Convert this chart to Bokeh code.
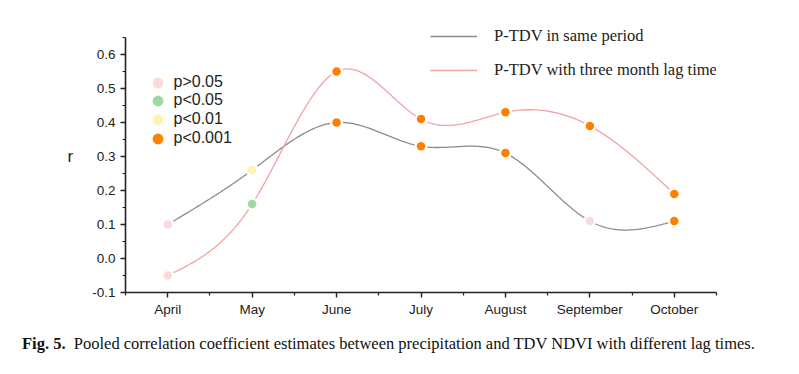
import numpy as np
from bokeh.plotting import figure
from bokeh.layouts import column
from bokeh.models import (Range1d, FixedTicker, PrintfTickFormatter, Legend, LegendItem,
                          ColumnDataSource, Div)
from bokeh.embed import file_html
from bokeh.resources import INLINE

# ---------------- data ----------------
months = ["April", "May", "June", "July", "August", "September", "October"]
r_same = [0.10, 0.26, 0.40, 0.33, 0.31, 0.11, 0.11]
r_lag = [-0.05, 0.16, 0.55, 0.41, 0.43, 0.39, 0.19]
sig_same = ["p>0.05", "p<0.01", "p<0.001", "p<0.001", "p<0.001", "p>0.05", "p<0.001"]
sig_lag = ["p>0.05", "p<0.05", "p<0.001", "p<0.001", "p<0.001", "p<0.001", "p<0.001"]
sig_levels = ["p>0.05", "p<0.05", "p<0.01", "p<0.001"]
series_names = ["P-TDV in same period", "P-TDV with three month lag time"]
y_ticks = [-0.1, 0.0, 0.1, 0.2, 0.3, 0.4, 0.5, 0.6]
caption_bold = "Fig. 5."
caption_text = "Pooled correlation coefficient estimates between precipitation and TDV NDVI with different lag times."

# ---------------- style ----------------
sig_colors = {"p>0.05": "#fcdada", "p<0.05": "#9fd8a0", "p<0.01": "#fff2b3", "p<0.001": "#ff8000"}
line_colors = ["#8c8c8c", "#f0a3a3"]
SANS = "Liberation Sans"
SERIF = "Liberation Serif"


def natural_spline(x, y, n=400):
    x = np.asarray(x, float)
    y = np.asarray(y, float)
    m = len(x)
    h = np.diff(x)
    A = np.zeros((m, m))
    b = np.zeros(m)
    A[0, 0] = A[-1, -1] = 1.0
    for i in range(1, m - 1):
        A[i, i - 1] = h[i - 1]
        A[i, i] = 2 * (h[i - 1] + h[i])
        A[i, i + 1] = h[i]
        b[i] = 3 * ((y[i + 1] - y[i]) / h[i] - (y[i] - y[i - 1]) / h[i - 1])
    c = np.linalg.solve(A, b)
    xs = np.linspace(x[0], x[-1], n)
    ys = np.empty_like(xs)
    for k, xv in enumerate(xs):
        i = min(np.searchsorted(x, xv, side="right") - 1, m - 2)
        dx = xv - x[i]
        bi = (y[i + 1] - y[i]) / h[i] - h[i] * (2 * c[i] + c[i + 1]) / 3
        di = (c[i + 1] - c[i]) / (3 * h[i])
        ys[k] = y[i] + bi * dx + c[i] * dx ** 2 + di * dx ** 3
    return xs, ys


xpos = list(range(len(months)))

p = figure(width=783, height=322, output_backend="svg", toolbar_location=None,
           x_range=Range1d(-0.5, len(months) - 0.5), y_range=Range1d(-0.1, 0.70),
           min_border_left=125, min_border_right=67, min_border_top=20, min_border_bottom=30,
           background_fill_color="white", border_fill_color="white")
p.outline_line_color = None
p.xgrid.visible = False
p.ygrid.visible = False

# lines (smooth)
line_renderers = []
for vals, col in zip([r_same, r_lag], line_colors):
    xs, ys = natural_spline(xpos, vals)
    line_renderers.append(p.line(xs, ys, line_color=col, line_width=1.3))

# white halos to create gaps around markers
all_x = xpos + xpos
all_y = r_same + r_lag
all_sig = sig_same + sig_lag
p.scatter(all_x, all_y, size=13, fill_color="white", line_color=None)

sig_renderers = {}
for lev in sig_levels:
    xs = [x for x, s in zip(all_x, all_sig) if s == lev]
    ys = [y for y, s in zip(all_y, all_sig) if s == lev]
    src = ColumnDataSource(dict(x=xs, y=ys))
    sig_renderers[lev] = p.scatter("x", "y", source=src, size=8.5,
                                   fill_color=sig_colors[lev], line_color=None)

# axes
p.xaxis.ticker = FixedTicker(ticks=xpos, minor_ticks=[i - 0.5 for i in range(len(months) + 1)])
p.xaxis.major_label_overrides = {i: m for i, m in enumerate(months)}
p.yaxis.ticker = FixedTicker(ticks=y_ticks,
                             minor_ticks=[round(-0.1 + 0.05 * i, 2) for i in range(16)])
p.yaxis.formatter = PrintfTickFormatter(format="%.1f")
p.yaxis.bounds = (-0.1, 0.65)
for ax in (p.xaxis[0], p.yaxis[0]):
    ax.axis_line_width = 1.6
    ax.axis_line_color = "#222222"
    ax.major_tick_line_color = "#222222"
    ax.minor_tick_line_color = "#222222"
    ax.major_tick_line_width = 1.4
    ax.minor_tick_line_width = 1.2
    ax.major_tick_in = 0
    ax.major_tick_out = 5
    ax.minor_tick_in = 0
    ax.minor_tick_out = 3
    ax.major_label_text_font = SANS
    ax.major_label_text_font_size = "13.5px"
    ax.major_label_text_color = "#222222"
p.xaxis.major_label_standoff = 4
p.yaxis.major_label_standoff = 5
p.yaxis.axis_label = "r"
p.yaxis.axis_label_orientation = "horizontal"
p.yaxis.axis_label_text_font = SANS
p.yaxis.axis_label_text_font_style = "normal"
p.yaxis.axis_label_text_font_size = "17px"
p.yaxis.axis_label_text_color = "#222222"
p.yaxis.axis_label_standoff = 16

# significance legend (one single-item legend per level so the rows can sit close together)
sig_legend_bottoms = [196.5, 178.5, 159.5, 140.5]
for lev, yb in zip(sig_levels, sig_legend_bottoms):
    p.add_layout(Legend(items=[LegendItem(label=lev, renderers=[sig_renderers[lev]])],
                        location=(18.5, yb), glyph_width=27, glyph_height=27,
                        label_standoff=3, padding=0, margin=0, border_line_color=None,
                        background_fill_alpha=0, label_text_font=SANS,
                        label_text_font_size="16px", label_text_color="#222222"))

# series legend
leg2 = Legend(items=[LegendItem(label=n, renderers=[r]) for n, r in zip(series_names, line_renderers)],
              location=(305, 212), glyph_width=47, glyph_height=20, spacing=14,
              label_standoff=17, padding=0, margin=0, border_line_color=None,
              background_fill_alpha=0, label_text_font=SERIF, label_text_font_size="16.5px",
              label_text_color="#222222")
p.add_layout(leg2)

# caption
cap = Div(text=f"<b>{caption_bold}</b>&nbsp;&nbsp;{caption_text}", width=775,
          margin=(12, 0, 0, 22),
          styles={"font-family": SERIF, "font-size": "16.5px", "color": "#111111",
                  "line-height": "19px", "white-space": "nowrap"})

layout = column(p, cap, spacing=0)
open("out.html", "w").write(file_html(layout, INLINE))
